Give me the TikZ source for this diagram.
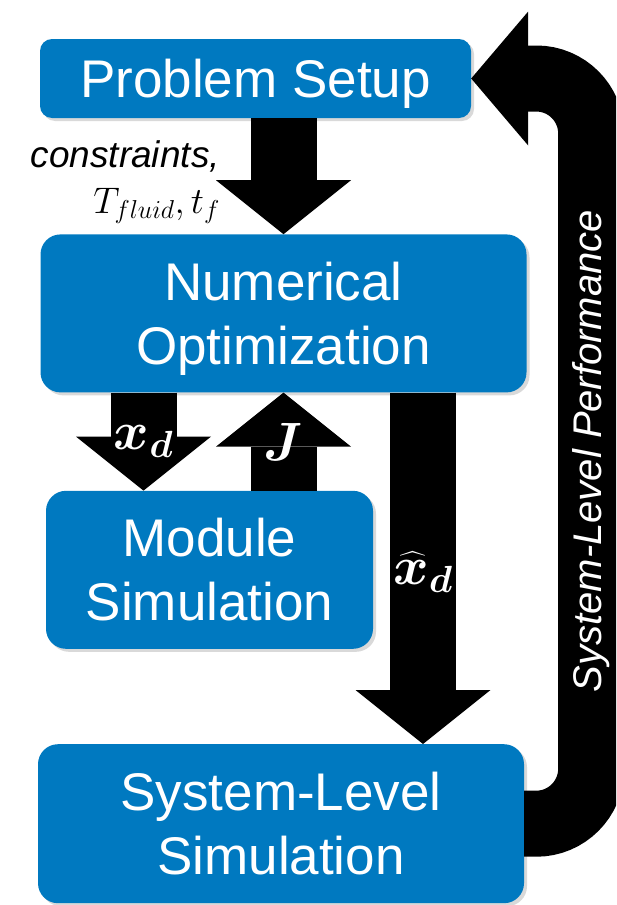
\RequirePackage{fix-cm}
\documentclass[tikz,border=0pt]{standalone}
\usepackage{amsmath, bm}
\usepackage{fontspec}
\setmainfont{Liberation Sans}
\usepackage{xcolor}
\usetikzlibrary{arrows.meta,positioning,calc,shadows}
\definecolor{boxblue}{RGB}{0,121,192}

\begin{document}
\begin{tikzpicture}[
    x=1pt, y=-1pt,
    block/.style={rectangle, rounded corners=20pt, fill=boxblue, text=white, minimum width=486pt, minimum height=158pt, align=center, inner sep=0pt, font=\fontsize{53}{64}\selectfont, drop shadow={shadow xshift=3pt, shadow yshift=-3pt, opacity=0.3}},
    bigarrow/.style={line width=66pt, -{Triangle[length=54pt, width=135pt, line width=0pt]}},
    feedback/.style={line width=66pt, rounded corners=55pt, -{Triangle[length=57pt, width=134pt, line width=0pt]}},
    flowlabel/.style={text=white, inner sep=0pt, font=\fontsize{54}{60}\selectfont},
    note/.style={inner sep=0pt, font=\fontsize{37}{46}\selectfont}
]
    \useasboundingbox (0,0) rectangle (616,905);
    \clip (0,0) rectangle (616,905);

    % Blocks (top to bottom)
    \node[block, minimum width=431pt, minimum height=79pt, rounded corners=12pt, text depth=0pt] (setup) at (255.5,78.5) {Problem Setup};
    \node[block, below=116pt of setup, xshift=28pt, text depth=0pt] (opt) {Numerical\\Optimization};
    \node[block, minimum width=327pt, below=98pt of opt, xshift=-74pt] (mod) {Module\\Simulation};
    \node[block, minimum height=159pt, below=95pt of mod, xshift=71.5pt] (sys) {System-Level\\Simulation};

    % Inputs to the optimizer
    \draw[bigarrow] (setup.south -| opt.north) -- (opt.north);
    \node[note, anchor=north east, align=right] (inputs) at (220,140) {\textit{constraints,}\\$T_{fluid}, t_f$};

    % Optimizer <-> module simulation
    \draw[bigarrow] ([xshift=-66pt]mod.north |- opt.south) -- node[flowlabel, midway] {$\bm{x_d}$} ([xshift=-66pt]mod.north);
    \draw[bigarrow] (mod.north -| opt.south) -- node[flowlabel, midway] {$\bm{J}$} (opt.south);

    % Optimized design to system-level simulation
    \draw[bigarrow] ([xshift=142pt]sys.north |- opt.south) -- node[flowlabel, midway, yshift=-4pt] {$\bm{\widehat{x}_d}$} ([xshift=142pt]sys.north);

    % Feedback loop
    \draw[feedback] (sys.east) -| node[pos=0.75, rotate=90, text=white, inner sep=0pt, font=\fontsize{40}{48}\selectfont\itshape] {System-Level Performance} ($(setup.east)+(120,0)$) -- (setup.east);

\end{tikzpicture}
\end{document}
